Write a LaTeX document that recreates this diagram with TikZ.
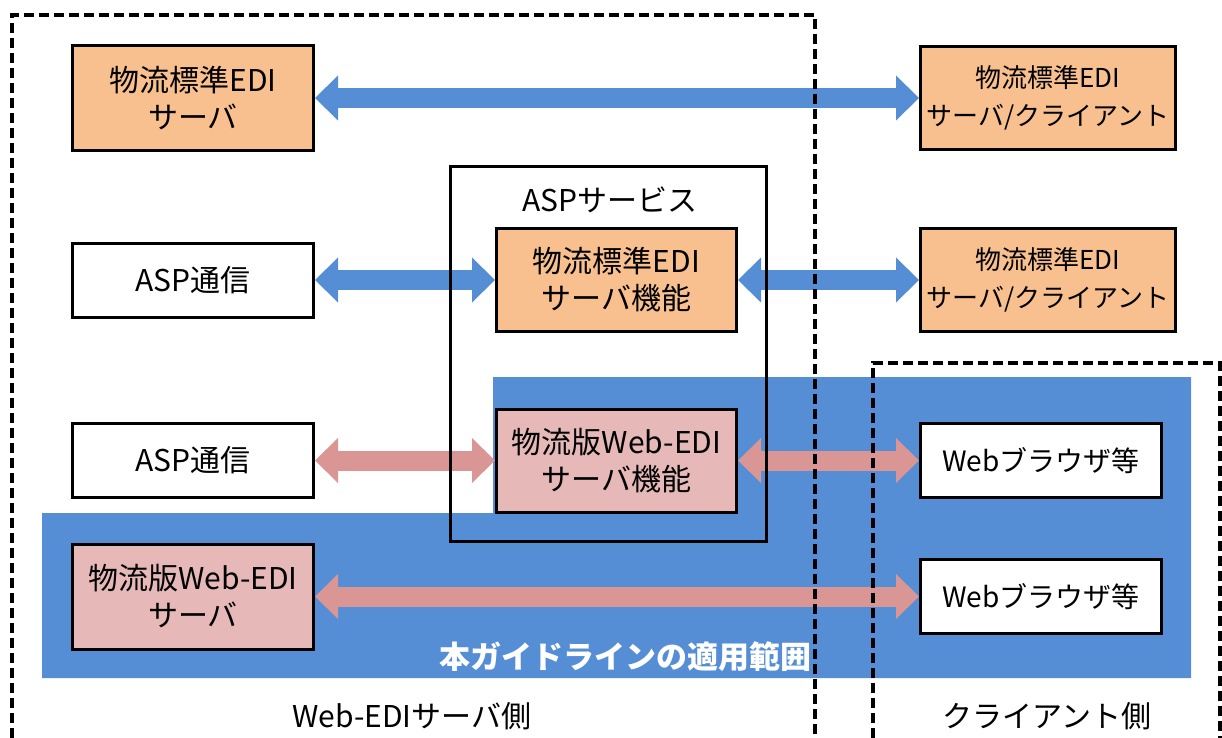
\documentclass[tikz,border=0pt]{standalone}
\usepackage{fontspec}
\setmainfont{Noto Sans CJK JP}
\usetikzlibrary{arrows.meta}

\definecolor{stdOrange}{HTML}{F8C08F}
\definecolor{webPink}{HTML}{E6B8B7}
\definecolor{arrowPink}{HTML}{D99694}
\definecolor{scopeBlue}{HTML}{558ED5}

\pgfdeclarelayer{back}
\pgfdeclarelayer{link}
\pgfdeclarelayer{frame}
\pgfsetlayers{back,link,frame,main}

\begin{document}
\begin{tikzpicture}[
  x=0.5pt, y=-0.5pt,
  every node/.style={font=\fontsize{15}{18.5}\selectfont},
  box/.style={draw, line width=1.5pt, align=center, inner sep=0pt},
  stdbox/.style={box, fill=stdOrange},
  webbox/.style={box, fill=webPink},
  plainbox/.style={box, fill=white},
  leftcol/.style={minimum width=120.5pt},
  tall/.style={minimum height=52.5pt},
  short/.style={minimum height=37pt},
  duplex/.style={line width=10pt,
    {Triangle[width=22.5pt,length=11.5pt,line width=0pt]}-{Triangle[width=22.5pt,length=11.5pt,line width=0pt]}},
  bluelink/.style={duplex, draw=scopeBlue},
  pinklink/.style={duplex, draw=arrowPink},
  side/.style={draw, line width=1.9pt, dash pattern=on 5pt off 2.5pt}]
  \useasboundingbox (0,0) rectangle (1222,738);

  % 適用範囲
  \begin{pgfonlayer}{back}
    \fill[scopeBlue] (493,377) -- (1191,377) -- (1191,678) -- (42,678)
      -- (42,513) -- (493,513) -- cycle;
  \end{pgfonlayer}
  \node[white, font=\fontsize{15.5}{18}\selectfont\bfseries] (scope) at (625,657) {本ガイドラインの適用範囲};

  % サーバ側 / クライアント側
  \begin{pgfonlayer}{frame}
    \draw[side] (12,738) -- (12,15) -- (815,15) -- (815,738);
    \draw[side] (873,738) -- (873,363) -- (1220,363) -- (1220,738);
  \end{pgfonlayer}
  \node (serverSide) at (412,716) {Web-EDIサーバ側};
  \node (clientSide) at (1047,716) {クライアント側};

  % ASPサービス
  \node[draw, line width=1.5pt, minimum width=158pt, minimum height=187.5pt] (asp) at (608.5,354) {};
  \node (aspTitle) at (610,200) {ASPサービス};

  % 左列
  \node[stdbox, leftcol, tall] (stdServer) at (193,98) {物流標準EDI\\サーバ};
  \node[plainbox, leftcol, short] (aspA) at (193,280) {ASP通信};
  \node[plainbox, leftcol, short] (aspB) at (193,460.5) {ASP通信};
  \node[webbox, leftcol, tall] (webServer) at (193,596.5) {物流版Web-EDI\\サーバ};

  % 中央
  \node[stdbox, minimum width=120pt, minimum height=51.5pt] (stdFunc) at (616.5,280) {物流標準EDI\\サーバ機能};
  \node[webbox, minimum width=120pt, minimum height=51.5pt] (webFunc) at (616.5,460.5) {物流版Web-EDI\\サーバ機能};

  % 右列
  \node[stdbox, minimum width=127.5pt, minimum height=51.5pt, font=\fontsize{13}{19}\selectfont] (stdClientA) at (1048,98) {物流標準EDI\\サーバ/クライアント};
  \node[stdbox, minimum width=127.5pt, minimum height=51.5pt, font=\fontsize{13}{19}\selectfont] (stdClientB) at (1048,280) {物流標準EDI\\サーバ/クライアント};
  \node[plainbox, minimum width=120.5pt, short, font=\fontsize{14}{17}\selectfont] (browserA) at (1041,460.5) {Webブラウザ等};
  \node[plainbox, minimum width=120.5pt, short, font=\fontsize{14}{17}\selectfont] (browserB) at (1041,596.5) {Webブラウザ等};

  \begin{pgfonlayer}{link}
    \draw[bluelink] (stdServer.east) -- (stdClientA.west);
    \draw[bluelink] (aspA.east) -- (stdFunc.west);
    \draw[bluelink] (stdFunc.east) -- (stdClientB.west);
    \draw[pinklink] (aspB.east) -- (webFunc.west);
    \draw[pinklink] (webFunc.east) -- (browserA.west);
    \draw[pinklink] (webServer.east) -- (browserB.west);
  \end{pgfonlayer}
\end{tikzpicture}
\end{document}
